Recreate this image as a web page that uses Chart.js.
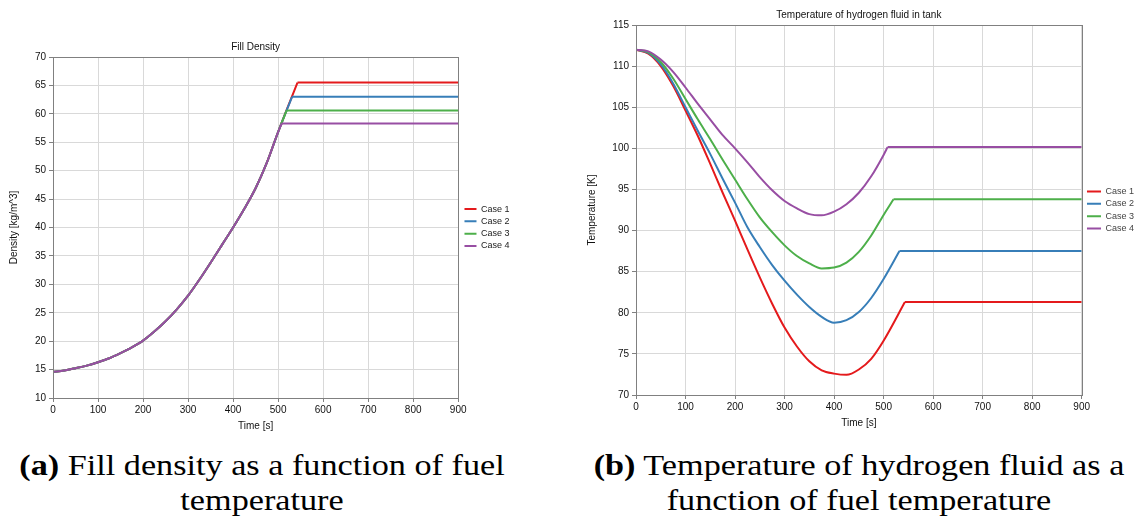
<!DOCTYPE html>
<html lang="en">
<head>
  <meta charset="UTF-8" />
  <title>Fill density and hydrogen temperature</title>
  <script src="https://cdn.jsdelivr.net/npm/chart.js"></script>
  <style>
    body { margin: 0; background: #fff; width: 1136px; height: 520px; position: relative; overflow: hidden; }
    .plot { position: absolute; }
    #wrapA { left: 0; top: 30px; width: 520px; height: 406px; }
    #wrapB { left: 580px; top: 0; width: 562px; height: 433px; }
    .caption {
      position: absolute;
      top: 447px;
      font-family: "Liberation Serif", serif;
      font-size: 30px;
      line-height: 35px;
      text-align: center;
      color: #000;
      transform: scaleX(1.14);
      transform-origin: center top;
    }
    .caption b { font-weight: bold; }
    #capA { left: 12px; width: 500px; }
    #capB { left: 586px; width: 546px; }
  </style>
</head>
<body>
  <div class="plot" id="wrapA"><canvas id="chartA"></canvas></div>
  <div class="plot" id="wrapB"><canvas id="chartB"></canvas></div>
  <div class="caption" id="capA"><b>(a)</b> Fill density as a function of fuel<br>temperature</div>
  <div class="caption" id="capB"><b>(b)</b> Temperature of hydrogen fluid as a<br>function of fuel temperature</div>

  <script>
    const caseLabels = ['Case 1', 'Case 2', 'Case 3', 'Case 4'];
    const caseColors = ['#e41a1c', '#377eb8', '#4daf4a', '#984ea3'];

    // time samples [s] used for the curved part of both plots
    const timeSteps = [0, 25, 50, 75, 100, 125, 150, 175, 200, 225, 250, 275, 300, 325, 350, 375, 400, 425, 450, 475, 500];
    const timeEnd = 900;

    // fill density [kg/m^3], same for all cases until the tank is full
    const densityShared = [14.6, 14.85, 15.25, 15.7, 16.3, 17.0, 17.9, 18.9, 20.1, 21.7, 23.5, 25.6, 28.0, 30.8, 33.8, 36.9, 40.0, 43.3, 46.9, 51.4, 56.8];
    const densityFullTime = [543, 531, 519, 508];
    const densityFinal = [65.5, 63.0, 60.6, 58.3];

    // temperature of hydrogen fluid [K]
    const tempCase1 = [112.0, 111.5, 110.0, 107.6, 104.6, 101.5, 98.1, 94.6, 91.2, 87.7, 84.3, 81.1, 78.2, 75.9, 74.1, 73.0, 72.6, 72.45, 73.1, 74.4, 76.6];
    const tempCase2 = [112.0, 111.6, 110.2, 107.9, 105.0, 102.1, 99.3, 96.3, 93.4, 90.4, 88.0, 85.8, 83.9, 82.2, 80.7, 79.5, 78.8, 79.1, 80.1, 81.8, 84.1];
    const tempCase3 = [112.0, 111.7, 110.5, 108.5, 106.0, 103.5, 101.1, 98.6, 96.2, 93.8, 91.6, 89.8, 88.2, 86.9, 86.0, 85.4, 85.5, 86.1, 87.4, 89.4, 91.9];
    const tempCase4 = [112.0, 111.8, 110.8, 109.3, 107.4, 105.4, 103.5, 101.6, 100.0, 98.3, 96.5, 94.9, 93.6, 92.7, 92.0, 91.85, 92.3, 93.2, 94.6, 96.6, 99.2];
    const tempFullTime = [543, 532, 520, 508];
    const tempFinal = [81.3, 87.5, 93.8, 100.15];

    const textFont = "'Liberation Sans', Arial, sans-serif";
    const axisGray = '#808080';
    const gridGray = '#d9d9d9';

    // one curved part (smooth) and one flat part per case, so the corner stays sharp
    function makeDatasets(valueLists, fullTimes, finals) {
      const n = caseLabels.length;
      const curves = caseLabels.map((label, i) => ({
        label: label,
        data: timeSteps.map((t, k) => ({ x: t, y: valueLists[i][k] })).concat([{ x: fullTimes[i], y: finals[i] }]),
        borderColor: caseColors[i],
        backgroundColor: caseColors[i],
        borderWidth: 2,
        pointRadius: 0,
        cubicInterpolationMode: 'monotone',
        order: n - i
      }));
      const flats = caseLabels.map((label, i) => ({
        label: label + ' (full)',
        data: [{ x: fullTimes[i], y: finals[i] }, { x: timeEnd, y: finals[i] }],
        borderColor: caseColors[i],
        backgroundColor: caseColors[i],
        borderWidth: 2,
        pointRadius: 0,
        tension: 0,
        order: n - i
      }));
      return curves.concat(flats);
    }

    // grey box round the plot area
    const framePlugin = {
      id: 'frame',
      afterDatasetsDraw(chart) {
        const a = chart.chartArea;
        const ctx = chart.ctx;
        ctx.save();
        ctx.strokeStyle = axisGray;
        ctx.lineWidth = 1;
        ctx.strokeRect(Math.round(a.left) + 0.5, Math.round(a.top) + 0.5, Math.round(a.right - a.left), Math.round(a.bottom - a.top));
        ctx.restore();
      }
    };

    // nudge the legend a little away from the plot box
    function legendNudge(dx) {
      return {
        id: 'legendNudge',
        afterLayout(chart) {
          chart.legend.left += dx;
          chart.legend.right += dx;
        }
      };
    }

    function makeOptions(cfg) {
      return {
        responsive: true,
        maintainAspectRatio: false,
        animation: false,
        layout: { padding: { top: 0, right: cfg.padRight, bottom: 0, left: 0 } },
        plugins: {
          title: {
            display: true,
            text: cfg.title,
            fullSize: false,
            color: '#111',
            font: { family: textFont, size: 10, weight: 'normal' },
            padding: cfg.titlePad
          },
          legend: {
            position: 'right',
            fullSize: false,
            labels: {
              usePointStyle: true,
              pointStyle: 'line',
              pointStyleWidth: cfg.legendLine,
              boxHeight: 9,
              padding: 3.3,
              color: cfg.legendColor,
              font: { family: textFont, size: 9 },
              filter: (item) => item.datasetIndex < caseLabels.length,
              sort: (a, b) => a.datasetIndex - b.datasetIndex
            }
          },
          tooltip: { enabled: false }
        },
        scales: {
          x: {
            type: 'linear',
            min: 0,
            max: timeEnd,
            ticks: { stepSize: 100, padding: 2, color: '#111', font: { family: textFont, size: 10 } },
            grid: { color: gridGray, tickColor: axisGray, tickLength: 4 },
            border: { color: axisGray },
            title: { display: true, text: 'Time [s]', color: '#111', font: { family: textFont, size: 10 }, padding: { top: 2, bottom: 4 } }
          },
          y: {
            min: cfg.yMin,
            max: cfg.yMax,
            afterFit(scale) { scale.width = cfg.yWidth; },
            ticks: { stepSize: 5, padding: 3, color: '#111', font: { family: textFont, size: 10 } },
            grid: { color: gridGray, tickColor: axisGray, tickLength: 4 },
            border: { color: axisGray },
            title: { display: true, text: cfg.yTitle, color: '#111', font: { family: textFont, size: 10 }, padding: { top: cfg.yTitleOffset, bottom: 2 } }
          }
        }
      };
    }

    new Chart(document.getElementById('chartA'), {
      type: 'line',
      data: { datasets: makeDatasets([densityShared, densityShared, densityShared, densityShared], densityFullTime, densityFinal) },
      options: makeOptions({
        title: 'Fill Density',
        titlePad: { top: 11, bottom: 4 },
        yTitle: 'Density [kg/m^3]',
        yMin: 10, yMax: 70,
        yWidth: 53,
        yTitleOffset: 8,
        padRight: 3.5,
        legendLine: 12,
        legendColor: '#222'
      }),
      plugins: [framePlugin, legendNudge(3)]
    });

    new Chart(document.getElementById('chartB'), {
      type: 'line',
      data: { datasets: makeDatasets([tempCase1, tempCase2, tempCase3, tempCase4], tempFullTime, tempFinal) },
      options: makeOptions({
        title: 'Temperature of hydrogen fluid in tank',
        titlePad: { top: 9, bottom: 4 },
        yTitle: 'Temperature [K]',
        yMin: 70, yMax: 115,
        yWidth: 56,
        yTitleOffset: 6,
        padRight: 0,
        legendLine: 14,
        legendColor: '#444'
      }),
      plugins: [framePlugin, legendNudge(2)]
    });
  </script>
</body>
</html>
